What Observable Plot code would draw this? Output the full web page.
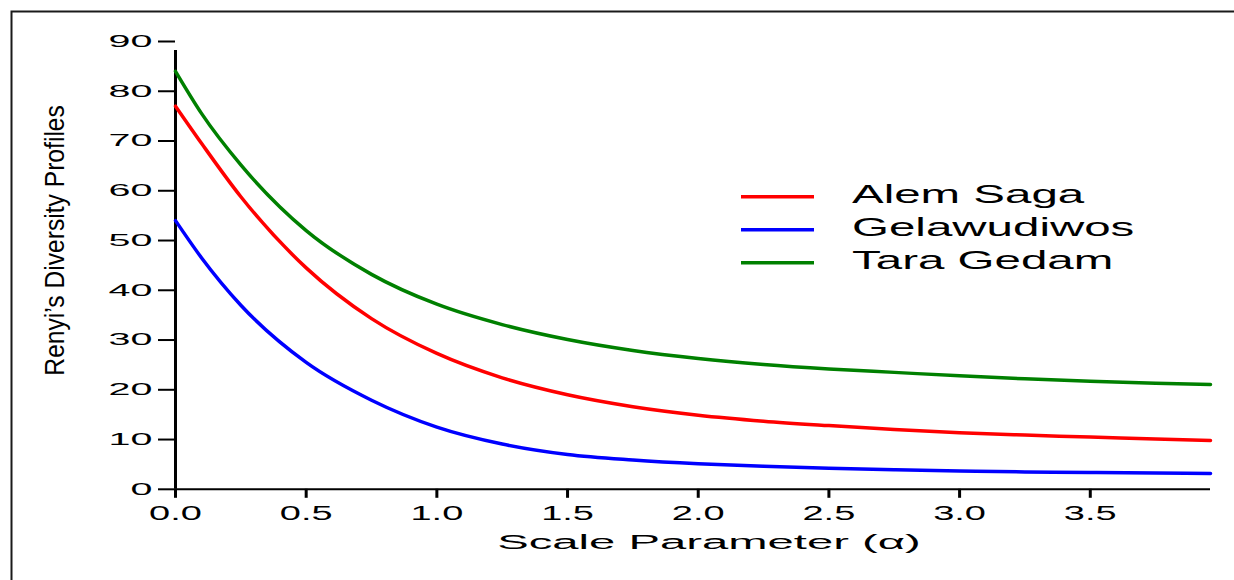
<!DOCTYPE html>
<html>
<head>
<meta charset="utf-8">
<script src="https://cdn.jsdelivr.net/npm/d3@7"></script>
<script src="https://cdn.jsdelivr.net/npm/@observablehq/plot@0.6"></script>
<style>
  body { margin: 0; background: #fff; }
  #chart svg { display: block; }
</style>
</head>
<body>
<div id="chart"></div>
<script>
// ---- data ----
const alpha = [0, 0.1, 0.25, 0.5, 0.75, 1, 1.25, 1.5, 1.75, 2, 2.25, 2.5, 2.75, 3, 3.25, 3.5, 3.75, 3.96];
const alemSaga    = [77.0, 69.5, 58.8, 44.5, 34.3, 27.3, 22.4, 19.0, 16.6, 14.9, 13.7, 12.8, 12.0, 11.35, 10.9, 10.5, 10.1, 9.8];
const gelawudiwos = [54.0, 46.5, 37.0, 25.5, 17.9, 12.5, 9.1, 7.0, 5.9, 5.15, 4.65, 4.25, 3.95, 3.7, 3.5, 3.4, 3.3, 3.2];
const taraGedam   = [84.0, 75.5, 65.2, 52.0, 43.2, 37.2, 33.1, 30.1, 27.9, 26.3, 25.1, 24.2, 23.5, 22.8, 22.2, 21.7, 21.3, 21.05];

const seriesNames  = ["Alem Saga", "Gelawudiwos", "Tara Gedam"];
const seriesColors = ["#ff0000", "#0000ff", "#008000"];
const yTicks = [0, 10, 20, 30, 40, 50, 60, 70, 80, 90];
const xTicks = [0, 0.5, 1, 1.5, 2, 2.5, 3, 3.5];
const xDomain = [0, 3.96];
const yDomain = [0, 90];
const xTitle = "Scale Parameter (\u03B1)";
const yTitle = "Renyi\u2019s Diversity Profiles";

// ---- table for the library ----
const rows = [];
[alemSaga, gelawudiwos, taraGedam].forEach((vals, s) =>
  vals.forEach((v, i) => rows.push({alpha: alpha[i], value: v, series: seriesNames[s]}))
);

const FONT = "'Liberation Sans', Arial, Helvetica, sans-serif";

// legend drawn inside the plot's svg
function legendMark() {
  const g = d3.create("svg:g").attr("aria-label", "legend");
  seriesNames.forEach((name, i) => {
    const y = 196.7 + i * 33;
    g.append("line")
      .attr("x1", 741).attr("x2", 814)
      .attr("y1", y).attr("y2", y)
      .attr("stroke", seriesColors[i])
      .attr("stroke-width", 3.6);
    g.append("text")
      .attr("transform", `translate(852,${y + 6}) scale(1.9,1)`)
      .attr("font-size", 25)
      .attr("font-family", FONT)
      .attr("text-anchor", "start")
      .attr("fill", "#000")
      .text(name);
  });
  return g.node();
}

const chart = Plot.plot({
  width: 1234,
  height: 580,
  marginLeft: 175,
  marginRight: 24,
  marginTop: 41,
  marginBottom: 91.2,
  style: {fontFamily: FONT, color: "#000", background: "#fff"},
  x: {domain: xDomain},
  y: {domain: yDomain},
  color: {domain: seriesNames, range: seriesColors},
  marks: [
    Plot.frame({insetLeft: -164, insetTop: -30, insetRight: -60, insetBottom: -150, stroke: "#1a1a1a", strokeWidth: 2}),
    Plot.axisY(yTicks, {tickSize: 17, tickPadding: 6, strokeWidth: 2, fontSize: 16.8, label: null, tickFormat: d => String(d)}),
    Plot.axisX(xTicks, {tickSize: 9, tickPadding: 7, strokeWidth: 3, fontSize: 20, label: null, tickFormat: d => d.toFixed(1)}),
    Plot.ruleX([0], {y1: yDomain[0], y2: yDomain[1], strokeWidth: 3, insetBottom: -9}),
    Plot.ruleY([0], {x1: xDomain[0], x2: xDomain[1], strokeWidth: 2}),
    Plot.lineY(rows, {x: "alpha", y: "value", stroke: "series", z: "series", strokeWidth: 3.5, curve: "monotone-x"}),
    Plot.text([xTitle], {frameAnchor: "bottom", lineAnchor: "middle", text: d => d, dx: 16, dy: 52.5, fontSize: 21, textAnchor: "middle"}),
    Plot.text([yTitle], {frameAnchor: "left", lineAnchor: "middle", text: d => d, dx: -120.5, dy: -25, rotate: -90, fontSize: 28, textAnchor: "middle"}),
    legendMark
  ]
});

// horizontal stretching of texts, around each text's own anchor
function scaleText(t, sx, sy = 1) {
  const tr = t.getAttribute("transform") || "";
  t.setAttribute("transform", `${tr} scale(${sx},${sy})`);
}
chart.querySelectorAll(`g[aria-label="y-axis tick label"] text`).forEach(t => scaleText(t, 2.35));
chart.querySelectorAll(`g[aria-label="x-axis tick label"] text`).forEach(t => scaleText(t, 1.9));
chart.querySelectorAll("text").forEach(t => {
  if (t.textContent === xTitle) scaleText(t, 2.25);
  if (t.textContent === yTitle) scaleText(t, 0.88);
});

document.getElementById("chart").append(chart);
</script>
</body>
</html>
